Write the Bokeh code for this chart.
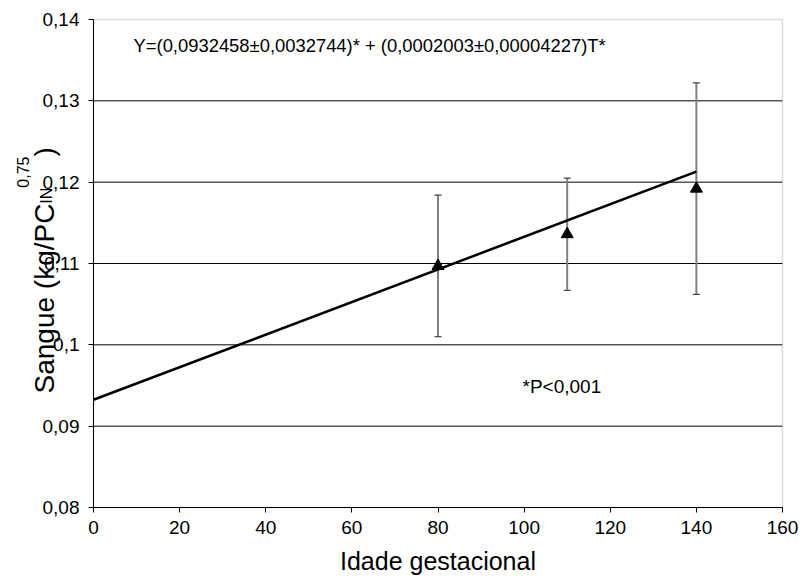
from bokeh.plotting import figure
from bokeh.models import Range1d, FixedTicker, Label, ColumnDataSource, BoxAnnotation
from bokeh.core.properties import value
from bokeh.embed import file_html
from bokeh.resources import INLINE
import math

# ---- data ----
idade = [80, 110, 140]
sangue = [0.1097, 0.1136, 0.1192]
desvio = [0.0087, 0.0069, 0.0130]
intercepto = 0.0932458
inclinacao = 0.0002003
reta_x = [0, 140]
x_ticks = [0, 20, 40, 60, 80, 100, 120, 140, 160]
y_ticks = [0.08, 0.09, 0.10, 0.11, 0.12, 0.13, 0.14]
y_tick_labels = ["0,08", "0,09", "0,1", "0,11", "0,12", "0,13", "0,14"]
equacao = "Y=(0,0932458\u00b10,0032744)* + (0,0002003\u00b10,00004227)T*"
nota = "*P<0,001"
x_titulo = "Idade gestacional"
y_titulo = ["Sangue (kg/PC", "IN", "0,75", ")"]

FONT = "Liberation Sans"

# ---- layout (pixels) ----
W, H = 800, 578
PA_L, PA_R, PA_T, PA_B = 93, 782, 19, 507     # plot-area edges on the page
FL, FR, FT, FB = 2, W - 2, 2, H - 1            # frame edges (frame covers almost all canvas)
XMIN, XMAX, YMIN, YMAX = 0, 160, 0.08, 0.14
kx = (PA_R - PA_L) / (XMAX - XMIN)
ky = (PA_B - PA_T) / (YMAX - YMIN)
x_rng = Range1d(XMIN - (PA_L - FL) / kx, XMAX + (FR - PA_R) / kx)
y_rng = Range1d(YMIN - (FB - PA_B) / ky, YMAX + (PA_T - FT) / ky)

p = figure(width=W, height=H, output_backend="svg", toolbar_location=None,
           x_range=x_rng, y_range=y_rng,
           min_border_left=FL, min_border_right=W - FR, min_border_top=FT, min_border_bottom=H - FB)
p.background_fill_color = "white"
p.border_fill_color = "white"
p.outline_line_color = None
p.xgrid.grid_line_color = None
p.ygrid.grid_line_color = None

# plot-area border (grey) and horizontal grid lines
p.add_layout(BoxAnnotation(left=XMIN, right=XMAX, bottom=YMIN, top=YMAX, fill_alpha=0,
                           line_color="#8a8a8a", line_width=1.5, level="underlay"))
inner = [t for t in y_ticks if YMIN < t < YMAX]
p.segment(x0=[XMIN] * len(inner), y0=inner, x1=[XMAX] * len(inner), y1=inner,
          line_color="black", line_width=1, level="underlay")

p.xaxis.ticker = FixedTicker(ticks=x_ticks)
p.xaxis.bounds = (XMIN, XMAX)
p.xaxis.fixed_location = YMIN
p.yaxis.ticker = FixedTicker(ticks=y_ticks)
p.yaxis.bounds = (YMIN, YMAX)
p.yaxis.fixed_location = XMIN
p.yaxis.major_label_overrides = {t: s for t, s in zip(y_ticks, y_tick_labels)}
for ax in (p.xaxis[0], p.yaxis[0]):
    ax.axis_line_color = "black"
    ax.axis_line_width = 1
    ax.major_tick_line_color = "black"
    ax.major_tick_in = 0
    ax.major_tick_out = 5
    ax.minor_tick_line_color = None
    ax.major_label_text_font = FONT
    ax.major_label_text_font_size = "19px"
    ax.major_label_text_color = "black"
p.yaxis.major_label_standoff = 9
p.xaxis.major_label_standoff = 8
p.xaxis.axis_label = x_titulo
p.xaxis.axis_label_text_font = FONT
p.xaxis.axis_label_text_font_size = "25px"
p.xaxis.axis_label_text_font_style = "normal"
p.xaxis.axis_label_text_color = "black"
p.xaxis.axis_label_standoff = 10

# error bars
lo = [m - s for m, s in zip(sangue, desvio)]
hi = [m + s for m, s in zip(sangue, desvio)]
src = ColumnDataSource(dict(x=idade, y=sangue, lo=lo, hi=hi))
p.segment(x0="x", y0="lo", x1="x", y1="hi", source=src, line_color="#808080", line_width=2)
p.scatter(x="x", y="lo", source=src, marker="dash", size=7, line_color="#404040", line_width=1.2)
p.scatter(x="x", y="hi", source=src, marker="dash", size=7, line_color="#404040", line_width=1.2)

# regression line
reta_y = [intercepto + inclinacao * v for v in reta_x]
p.line(reta_x, reta_y, line_color="black", line_width=2.5)

# points
p.scatter(x="x", y="y", source=src, marker="triangle", size=12, fill_color="black", line_color="black")

# texts inside plot area
p.add_layout(Label(x=XMIN, y=YMAX - 26 / ky, x_offset=40, text=equacao, text_font=FONT,
                   text_font_size="18.4px", text_baseline="middle", text_align="left", text_color="black"))
p.add_layout(Label(x=XMIN + 429 / kx, y=YMAX - 367 / ky, text=nota, text_font=FONT, text_font_size="19px",
                   text_baseline="middle", text_align="left", text_color="black"))

# y-axis title: Sangue (kg/PC_IN^0,75)  (rotated, left of the y axis)
F = 28.0
fs = 16.0
w1 = 6.781 * F
w_in = 1.0 * fs
w_sup = 1.946 * fs
start = YMAX - (393 - PA_T) / ky
base_x = XMIN - (36 + 13) / kx
tx = [base_x, base_x + 2 / kx, base_x - 22 / kx, base_x]
ty = [start, start + w1 / ky, start + (w1 + w_in) / ky, start + (w1 + w_in + w_sup) / ky]
sizes = [F, fs, fs, F]
for txt, x_, y_, s_ in zip(y_titulo, tx, ty, sizes):
    p.text(x=[x_], y=[y_], text=[txt], angle=math.pi / 2, text_font=value(FONT),
           text_font_size=value(f"{s_:.1f}px"), text_align="left", text_baseline="alphabetic",
           text_color="black")

open("out.html", "w").write(file_html(p, INLINE))
